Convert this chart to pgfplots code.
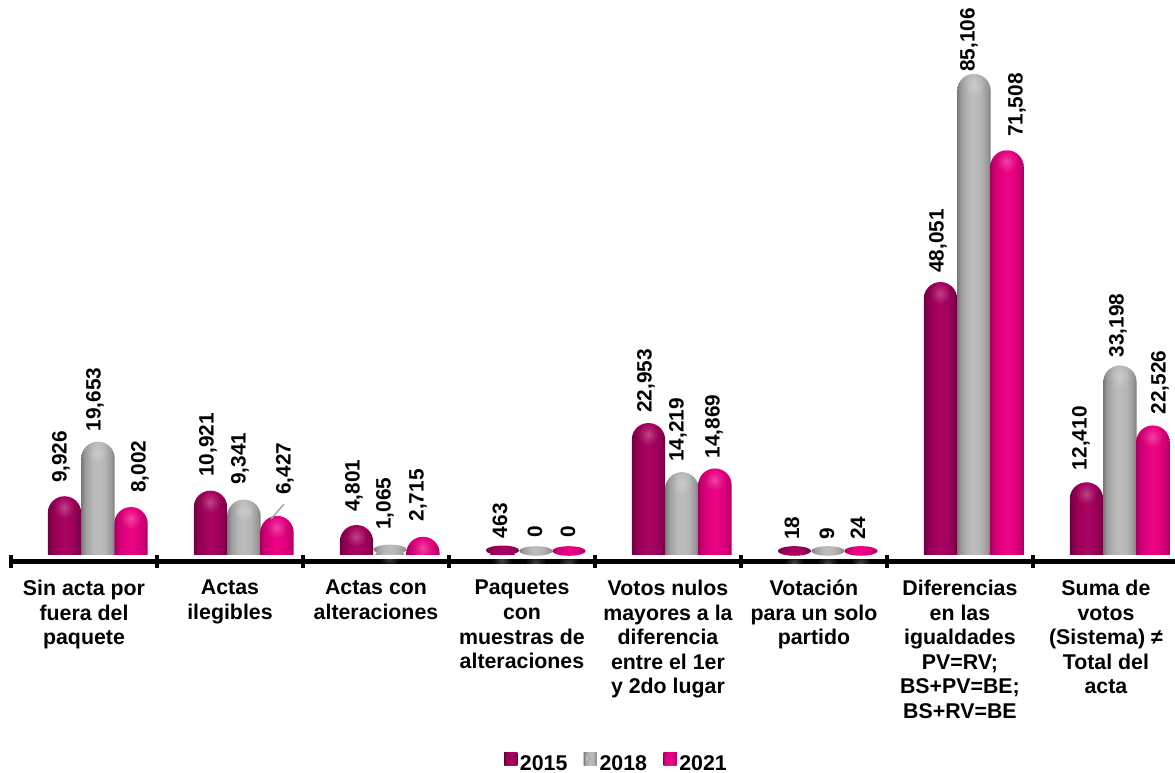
\documentclass[border=0pt]{standalone}
\usepackage{pgfplots}
\usepackage{pgfplotstable}
\pgfplotsset{compat=1.18}
\usepackage{fontspec}
\setmainfont{Liberation Sans}

% 1 px of the reference = 0.75pt here
\pgfdeclarehorizontalshading{barM}{100bp}{rgb(0bp)=(.42,0,.24); rgb(25bp)=(.42,0,.24); rgb(31bp)=(.55,0,.31); rgb(42bp)=(.64,0,.36); rgb(50bp)=(.66,.02,.38); rgb(60bp)=(.63,0,.36); rgb(70bp)=(.53,0,.30); rgb(75bp)=(.42,0,.24); rgb(100bp)=(.42,0,.24)}
\pgfdeclarehorizontalshading{barG}{100bp}{rgb(0bp)=(.48,.48,.48); rgb(25bp)=(.48,.48,.48); rgb(31bp)=(.62,.62,.62); rgb(42bp)=(.72,.72,.72); rgb(50bp)=(.74,.74,.74); rgb(60bp)=(.71,.71,.71); rgb(70bp)=(.60,.60,.60); rgb(75bp)=(.48,.48,.48); rgb(100bp)=(.48,.48,.48)}
\pgfdeclarehorizontalshading{barP}{100bp}{rgb(0bp)=(.66,0,.37); rgb(25bp)=(.66,0,.37); rgb(31bp)=(.80,0,.45); rgb(42bp)=(.90,0,.50); rgb(50bp)=(.92,.02,.52); rgb(60bp)=(.89,0,.50); rgb(70bp)=(.78,0,.44); rgb(75bp)=(.66,0,.37); rgb(100bp)=(.66,0,.37)}

\pgfdeclareplotmark{spot}{%
  \begin{pgfscope}%
  \pgfsetfillcolor{white}\pgfsetfillopacity{0.06}%
  \pgfpathcircle{\pgfpoint{0pt}{-9pt}}{7pt}\pgfusepathqfill
  \pgfpathcircle{\pgfpoint{0pt}{-9pt}}{5pt}\pgfusepathqfill
  \pgfpathcircle{\pgfpoint{0pt}{-9pt}}{3.5pt}\pgfusepathqfill
  \pgfpathcircle{\pgfpoint{0pt}{-9pt}}{2pt}\pgfusepathqfill
  \pgfpathcircle{\pgfpoint{0pt}{-9pt}}{1pt}\pgfusepathqfill
  \end{pgfscope}}
\newcommand\lensmark[1]{\pgfdeclareplotmark{lens#1}{%
  \pgfpathellipse{\pgfpointorigin}{\pgfpoint{12.5pt}{0pt}}{\pgfpoint{0pt}{3.6pt}}%
  \pgfshadepath{bar#1}{0}\pgfusepath{discard}}}
\lensmark{M}\lensmark{G}\lensmark{P}

\newcommand\legsq[3]{%
  \begin{scope}[sharp corners]
  \fill[#2] (0,-1pt) rectangle (9.75pt,8.75pt);
  \fill[#1] (0,-1pt) -- (4.875pt,3.875pt) -- (0,8.75pt) -- cycle;
  \fill[#3] (0,-1pt) -- (4.875pt,1pt) -- (9.75pt,-1pt) -- cycle;
  \end{scope}}

\pgfplotstableread{
x    v     dx    dy
0.5  9926  -3.5  13
1.5  10921 -2.5  13.7
2.5  4801  -2.5  13
3.5  463   -2.5  11
4.5  22953 -2.5  10
5.5  18    -2.5  12
6.5  48051 -2.5  9
7.5  12410 -5.5  12
}\tblA
\pgfplotstableread{
x    v     dx    dy
0.5  19653 -3    10
1.5  9341  -4    14.5
2.5  1065  -5    16
3.5  0     -1    14
4.5  14219 -4    10
5.5  9     -1    12
6.5  85106 -5    2
7.5  33198 -2    8
}\tblB
\pgfplotstableread{
x    v     dx    dy
0.5  8002   9    14
1.5  6427   8    21
2.5  2715  -5    15
3.5  0     -1    14
4.5  14869 -1    10
5.5  24    -3    12
6.5  71508 10    13
7.5  22526  7    11
}\tblC

\pgfplotsset{
  barser/.style 2 args={
    ybar, bar width=25pt, draw=none, rounded corners=12.4pt,
    bar shift=#1, shading=#2,
    y filter/.expression={y+4094},
    point meta=rawy,
    mark=spot, mark options={xshift=#1},% also moves the nodes near coords
    visualization depends on=\thisrow{dx}\as\ldx,
    visualization depends on=\thisrow{dy}\as\ldy,
    nodes near coords,
    every node near coord/.append style={
      xshift=\ldx*0.75pt, yshift=\ldy*0.75pt, rotate=90, anchor=west,
      inner sep=0pt, black, font=\fontsize{15.6}{18}\selectfont\bfseries,
      sharp corners},
  },
  lensser/.style={
    only marks, forget plot,
    y filter/.expression={y*0.25+4272},
  },
}

% one \addplot per bar, so that the shading runs across each bar by itself
\newcommand\barrow[4]{%
  \addplot[barser={#2}{#3}, restrict x to domain=0.4:0.6, legend image code/.code={#4}] table[x=x,y=v] {#1};
  \pgfplotsinvokeforeach{1,...,7}{%
    \addplot[forget plot, barser={#2}{#3}, restrict x to domain=##1.4:##1.6] table[x=x,y=v] {#1};}}

\begin{document}
\begin{tikzpicture}
\path[use as bounding box] (-8.25pt,-144.75pt) rectangle (873pt,435pt);
\begin{axis}[
    at={(0,0)}, anchor=south west,
    scale only axis, width=873pt, height=435pt,
    clip=false,
    xmin=0, xmax=7.973,
    ymin=-890, ymax=102350,
    axis on top,
    axis x line*=bottom,
    axis x line shift=-13.5pt,
    axis y line=none,
    x axis line style={line width=3.75pt, black, -},
    xtick={0.5,1.5,2.5,3.5,4.5,5.5,6.5,7.5},
    minor xtick={0,1,2,3,4,5,6,7},
    major tick length=0pt,
    minor tick length=9.75pt,
    tick align=center,
    minor tick style={line width=3.4pt, black},
    xticklabels={
      {Sin acta por\\fuera del\\paquete},
      {Actas\\ilegibles},
      {Actas con\\alteraciones},
      {Paquetes\\con\\muestras de\\alteraciones},
      {Votos nulos\\mayores a la\\diferencia\\entre el 1er\\y 2do lugar},
      {Votación\\para un solo\\partido},
      {Diferencias\\en las\\igualdades\\PV=RV;\\BS+PV=BE;\\BS+RV=BE},
      {Suma de\\votos\\(Sistema) ≠\\Total del\\acta}},
    xticklabel style={align=center, anchor=north, inner sep=0pt, yshift=-13.5pt,
      font=\fontsize{16}{18.4}\selectfont\bfseries},
    /pgf/number format/.cd, fixed, precision=0, 1000 sep={,}, assume math mode=true,
    /pgfplots/.cd,
    legend style={at={(0.5205,-0.317)}, anchor=center, draw=none, fill=none,
      inner sep=0pt, font=\fontsize{16}{18}\selectfont\bfseries, legend columns=3,
      /tikz/every even column/.append style={column sep=10.4pt}},
  ]
\barrow{\tblA}{-14.625pt}{barM}{\legsq{black!60!purple}{purple!80!black}{magenta!50!purple}}
\barrow{\tblB}{10.5pt}{barG}{\legsq{gray!70!black}{gray}{gray!40}}
\barrow{\tblC}{35.25pt}{barP}{\legsq{magenta!70!black}{magenta!90!black}{magenta!60}}

\fill[white] (axis cs:0,3560) rectangle (axis cs:7.973,-890);

\addplot[lensser, mark=lensM, mark options={xshift=-14.625pt}] coordinates {(3.5,463) (5.5,18)};
\addplot[lensser, mark=lensG, mark options={xshift=10.5pt}] coordinates {(2.5,1065) (3.5,0) (5.5,9)};
\addplot[lensser, mark=lensP, mark options={xshift=35.25pt}] coordinates {(3.5,0) (5.5,24)};

\addplot[forget plot, gray!70, line width=1.1pt] coordinates {(1.870,12638) (1.781,9968)};

\legend{2015,2018,2021}
\end{axis}
\end{tikzpicture}
\end{document}
